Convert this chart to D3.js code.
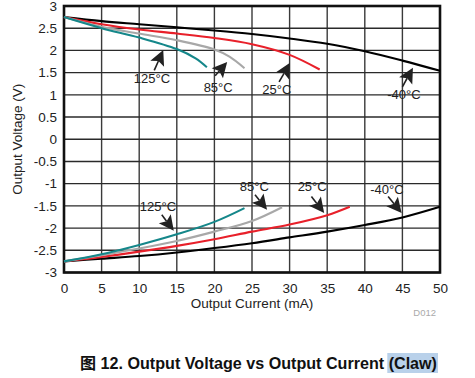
<!doctype html>
<html>
<head>
<meta charset="utf-8">
<script src="https://cdn.jsdelivr.net/npm/d3@7/dist/d3.min.js"></script>
<style>
  body { margin: 0; background: #fff; }
  text { font-family: "Liberation Sans", Arial, sans-serif; }
</style>
</head>
<body>
<svg width="475" height="378"></svg>
<script>
// ---- data ----
var xTicks = [0, 5, 10, 15, 20, 25, 30, 35, 40, 45, 50];
var yTicks = [3, 2.5, 2, 1.5, 1, 0.5, 0, -0.5, -1, -1.5, -2, -2.5, -3];

var temps = ["-40°C", "25°C", "85°C", "125°C"];
var colors = ["#000000", "#e8202a", "#a8a8a8", "#15878a"];

// sourcing side (positive output)
var posM40 = [[0,2.75],[5,2.66],[10,2.59],[15,2.52],[20,2.45],[25,2.37],[30,2.27],[35,2.15],[40,1.98],[45,1.77],[50,1.54]];
var pos25  = [[0,2.75],[5,2.59],[10,2.47],[15,2.38],[20,2.28],[25,2.14],[30,1.90],[34,1.57]];
var pos85  = [[0,2.75],[5,2.53],[10,2.38],[15,2.23],[20,2.02],[22,1.86],[24,1.60]];
var pos125 = [[0,2.75],[5,2.50],[10,2.29],[15,2.03],[17.5,1.82],[19,1.62]];

// sinking side (negative output)
var negM40 = [[0,-2.75],[5,-2.69],[10,-2.63],[15,-2.55],[20,-2.45],[25,-2.34],[30,-2.21],[35,-2.08],[40,-1.93],[45,-1.76],[50,-1.52]];
var neg25  = [[0,-2.75],[5,-2.65],[10,-2.53],[15,-2.40],[20,-2.25],[25,-2.08],[30,-1.92],[35,-1.71],[38,-1.52]];
var neg85  = [[0,-2.75],[5,-2.61],[10,-2.46],[15,-2.29],[20,-2.08],[25,-1.84],[29,-1.53]];
var neg125 = [[0,-2.75],[5,-2.59],[10,-2.38],[15,-2.14],[20,-1.86],[24,-1.55]];

// annotations: label position, arrow tail, arrow tip (data units)
var labels = [
  { t: "125°C", at: [11.7, 1.38],  tail: [12.0, 1.55],  tip: [13.2, 2.01] },
  { t: "85°C",  at: [20.5, 1.16],  tail: [20.1, 1.43],  tip: [21.7, 1.74] },
  { t: "25°C",  at: [28.3, 1.13],  tail: [28.6, 1.29],  tip: [30.05, 1.72] },
  { t: "-40°C", at: [45.2, 1.0],   tail: [45.0, 1.18],  tip: [46.4, 1.61] },
  { t: "125°C", at: [12.5, -1.52], tail: [13.0, -1.70], tip: [14.6, -2.06] },
  { t: "85°C",  at: [25.3, -1.07], tail: [25.4, -1.25], tip: [27.0, -1.59] },
  { t: "25°C",  at: [33.0, -1.07], tail: [32.9, -1.29], tip: [34.6, -1.66] },
  { t: "-40°C", at: [42.95, -1.12],tail: [43.1, -1.29], tip: [44.9, -1.66] }
];

var svg = d3.select("svg"),
    marginLeft = 64, marginTop = 6,
    width = 376, height = 266.5;

var x = d3.scaleLinear().domain([0, 50]).range([0, width]),
    y = d3.scaleLinear().domain([-3, 3]).range([height, 0]);

var g = svg.append("g").attr("transform", "translate(" + marginLeft + "," + marginTop + ")");

// grid
g.selectAll(".vgrid").data(xTicks).enter().append("line")
  .attr("x1", function (d) { return x(d); }).attr("x2", function (d) { return x(d); })
  .attr("y1", 0).attr("y2", height)
  .attr("stroke", "#3a3a3a").attr("stroke-width", 1.4);
g.selectAll(".hgrid").data(yTicks).enter().append("line")
  .attr("y1", function (d) { return y(d); }).attr("y2", function (d) { return y(d); })
  .attr("x1", 0).attr("x2", width)
  .attr("stroke", "#2a2a2a").attr("stroke-width", 1.4);

// axes labels
var fmt = function (d) { return String(d); };
var xAxis = g.append("g").attr("transform", "translate(0," + height + ")")
  .call(d3.axisBottom(x).tickValues(xTicks).tickFormat(fmt).tickSize(0).tickPadding(11));
var yAxis = g.append("g")
  .call(d3.axisLeft(y).tickValues(yTicks).tickFormat(fmt).tickSize(0).tickPadding(7));
[xAxis, yAxis].forEach(function (a) {
  a.select(".domain").remove();
  a.selectAll("text").attr("font-size", 13.5).attr("fill", "#222")
    .attr("font-family", "Liberation Sans, Arial, sans-serif");
});

// frame
g.append("rect").attr("width", width).attr("height", height)
  .attr("fill", "none").attr("stroke", "#111").attr("stroke-width", 2.6);

// curves
var line = d3.line()
  .x(function (d) { return x(d[0]); })
  .y(function (d) { return y(d[1]); })
  .curve(d3.curveCatmullRom.alpha(0.5));

var series = [posM40, pos25, pos85, pos125, negM40, neg25, neg85, neg125];
series.forEach(function (s, i) {
  g.append("path").datum(s).attr("d", line)
    .attr("fill", "none").attr("stroke", colors[i % 4]).attr("stroke-width", 2.1);
});

// annotations
labels.forEach(function (a) {
  var tx = x(a.tail[0]), ty = y(a.tail[1]),
      px = x(a.tip[0]), py = y(a.tip[1]);
  var dx = px - tx, dy = py - ty, len = Math.sqrt(dx * dx + dy * dy);
  var ux = dx / len, uy = dy / len;
  var hl = 15, hw = 7.5;
  var bx = px - ux * hl, by = py - uy * hl;
  g.append("line").attr("x1", tx).attr("y1", ty).attr("x2", px - ux * hl * 0.8).attr("y2", py - uy * hl * 0.8)
    .attr("stroke", "#222").attr("stroke-width", 1.6);
  g.append("path")
    .attr("d", "M" + px + "," + py +
      "L" + (bx - uy * hw) + "," + (by + ux * hw) +
      "L" + (px - ux * hl * 0.8) + "," + (py - uy * hl * 0.8) +
      "L" + (bx + uy * hw) + "," + (by - ux * hw) + "Z")
    .attr("fill", "#222");
  g.append("text").attr("x", x(a.at[0])).attr("y", y(a.at[1]))
    .attr("dy", "0.35em").attr("text-anchor", "middle")
    .attr("font-size", 13).attr("fill", "#222").text(a.t);
});

// axis titles
svg.append("text").attr("x", marginLeft + width / 2).attr("y", 308)
  .attr("text-anchor", "middle").attr("font-size", 13.5).attr("fill", "#222")
  .text("Output Current (mA)");
svg.append("text").attr("transform", "translate(22," + (marginTop + height / 2) + ") rotate(-90)")
  .attr("text-anchor", "middle").attr("font-size", 13.5).attr("fill", "#222")
  .text("Output Voltage (V)");
svg.append("text").attr("x", 436).attr("y", 316).attr("text-anchor", "end")
  .attr("font-size", 9.5).attr("fill", "#aaa").text("D012");

// caption
var hl = svg.append("rect").attr("fill", "#b9d1ea");
var cap = svg.append("text").attr("x", 80).attr("y", 369)
  .attr("font-size", 16).attr("font-weight", "bold").attr("fill", "#111");
cap.append("tspan").attr("font-family", "Noto Sans CJK SC").text("图");
cap.append("tspan").text(" 12. Output Voltage vs Output Current ");
var claw = cap.append("tspan").text("(Claw)");
var capW = cap.node().getComputedTextLength();
cap.attr("textLength", 357).attr("lengthAdjust", "spacingAndGlyphs");
var clawW = claw.node().getComputedTextLength() * 357 / capW;
hl.attr("x", 80 + 357 - clawW - 1).attr("y", 353).attr("width", clawW + 2).attr("height", 20);
</script>
</body>
</html>
